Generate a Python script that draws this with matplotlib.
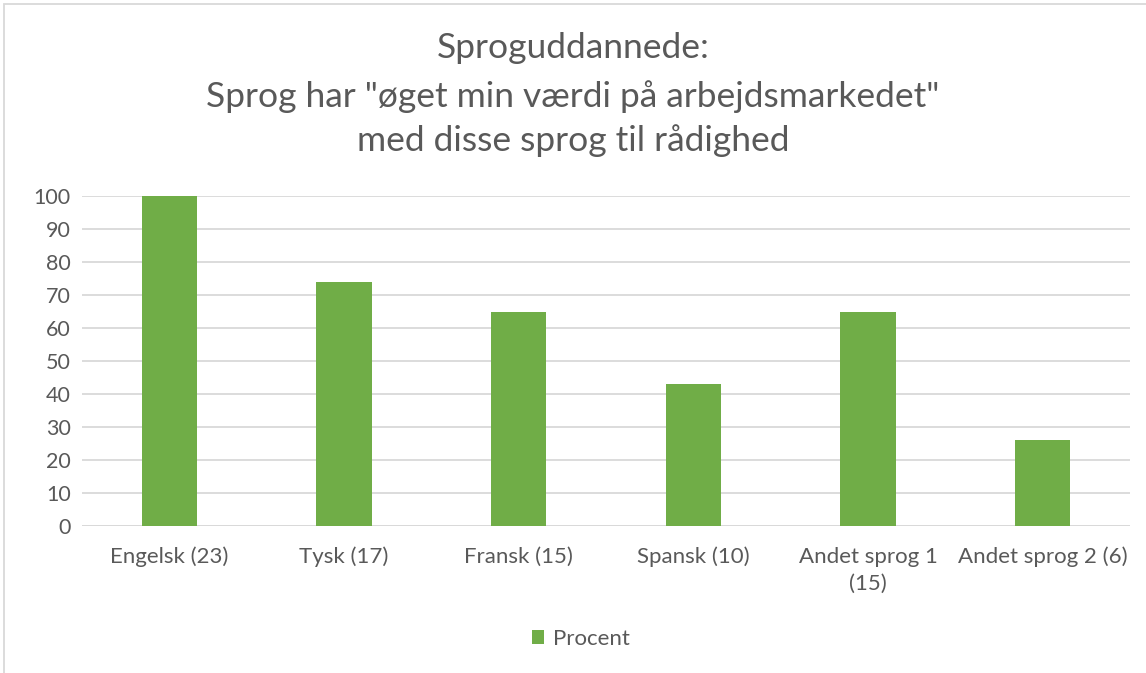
import matplotlib
matplotlib.use("Agg")
import matplotlib.pyplot as plt
from matplotlib.patches import Rectangle

# antal svar står i parentes i kategorinavnet
sprog = ["Engelsk (23)", "Tysk (17)", "Fransk (15)", "Spansk (10)",
         "Andet sprog 1\n(15)", "Andet sprog 2 (6)"]
procent = [100, 74, 65, 43, 65, 26]
y_ticks = list(range(0, 101, 10))

plt.rcParams['font.family'] = ['Lato', 'DejaVu Sans']
grey = "#595959"

fig = plt.figure(figsize=(11.46, 6.73), dpi=100)
ax = fig.add_axes([82 / 1146, 1 - 526 / 673, 1048 / 1146, 330 / 673])

x = range(len(sprog))
ax.bar(x, procent, width=0.315, color="#70ad47", label="Procent", zorder=3)

ax.set_xlim(-0.5, len(sprog) - 0.5)
ax.set_ylim(0, 100)
ax.set_yticks(y_ticks)
ax.set_xticks(list(x))
ax.set_xticklabels(sprog, fontsize=16, color=grey, linespacing=1.45)
ax.tick_params(axis='y', labelsize=15.5, labelcolor=grey, length=0, pad=8)
ax.tick_params(axis='x', length=0, pad=15)
ax.yaxis.grid(True, color="#d9d9d9", linewidth=1.3, zorder=0)
for side in ax.spines.values():
    side.set_visible(False)
ax.axhline(0, color="#d9d9d9", linewidth=1.3, zorder=2)

fig.text(0.5, 1 - 48 / 673, "Sproguddannede:", ha='center', va='center',
         fontsize=25.5, color=grey)
fig.text(0.5, 1 - 97 / 673, 'Sprog har "øget min værdi på arbejdsmarkedet"',
         ha='center', va='center', fontsize=25.5, color=grey)
fig.text(0.5, 1 - 141 / 673, "med disse sprog til rådighed", ha='center',
         va='center', fontsize=25.5, color=grey)

leg = fig.legend(loc='center', bbox_to_anchor=(0.507, 1 - 639 / 673), frameon=False,
                 fontsize=16, handlelength=0.55, handleheight=0.55, handletextpad=0.4)
for t in leg.get_texts():
    t.set_color(grey)

# rammen om diagramområdet
fig.patches.append(Rectangle((4 / 1146, -0.1), 1.2, 1.1 - 4 / 673,
                             transform=fig.transFigure, fill=False,
                             edgecolor="#d9d9d9", linewidth=1.3))

fig.savefig("out.png", dpi=100)
